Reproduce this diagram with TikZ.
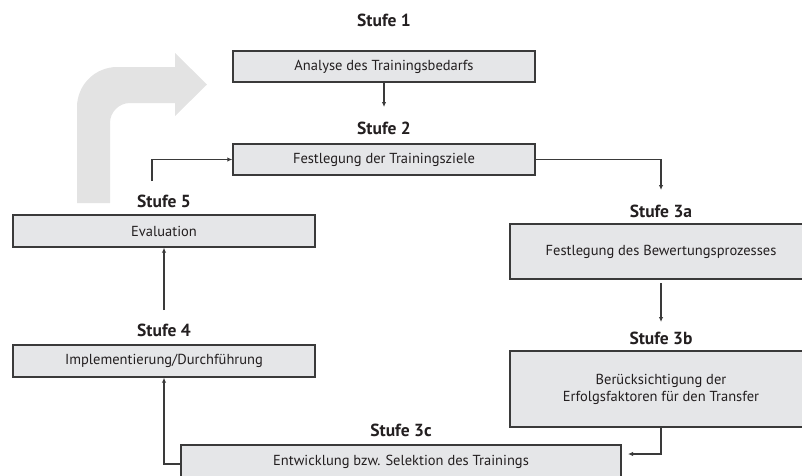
\documentclass[tikz,border=0pt]{standalone}
\usepackage{fontspec}
\setmainfont{PT Sans}
\usetikzlibrary{arrows.meta}
\definecolor{boxfill}{HTML}{E5E6E8}
\definecolor{boxline}{HTML}{3A3A3A}
\definecolor{bigarrow}{HTML}{E3E3E3}
\definecolor{txt}{HTML}{231F20}
\begin{document}
\begin{tikzpicture}[x=1pt,y=-1pt,
  stage/.style={draw=boxline,line width=1.4pt,fill=boxfill,text=txt,
    font=\fontsize{14.5}{17}\selectfont,align=center,inner sep=0pt},
  lbl/.style={text=txt,font=\fontsize{17.5}{20}\selectfont\bfseries,inner sep=0pt},
  conn/.style={draw=boxline,line width=1.1pt,-{Latex[length=5pt,width=4.5pt]}}]
\useasboundingbox (0,0) rectangle (802,475);
\begin{scope}
\clip (0,0) rectangle (802,475);
% big grey arrow
\fill[bigarrow] (77,203) -- (77,107) .. controls (77,85) and (95,67) .. (117,67)
  -- (175,67) -- (175,53) -- (207,84.5) -- (175,116) -- (175,103) -- (130,103)
  .. controls (119,103) and (110,112) .. (110,123) -- (110,203) -- cycle;
% boxes
\node[stage,minimum width=302pt,minimum height=31pt] (s1) at (384,66.5) {Analyse des Trainingsbedarfs};
\node[stage,minimum width=302pt,minimum height=31pt] (s2) at (384,159.5) {Festlegung der Trainingsziele};
\node[stage,minimum width=302pt,minimum height=55pt] (s3a) at (661,251.5) {Festlegung des Bewertungsprozesses};
\node[stage,minimum width=302pt,minimum height=76pt] (s3b) at (661,389) {Berücksichtigung der\\Erfolgsfaktoren für den Transfer};
\node[stage,minimum width=440pt,minimum height=34pt] (s3c) at (401,462) {Entwicklung bzw. Selektion des Trainings};
\node[stage,minimum width=302pt,minimum height=32pt] (s4) at (164,361) {Implementierung/Durchführung};
\node[stage,minimum width=302pt,minimum height=32pt] (s5) at (164,231) {Evaluation};
% labels
\node[lbl] (l1) at (384,20) {Stufe 1};
\node[lbl] (l2) at (384,128) {Stufe 2};
\node[lbl] (l3a) at (661,211) {Stufe 3a};
\node[lbl] (l3b) at (661,338) {Stufe 3b};
\node[lbl] (l3c) at (401,430) {Stufe 3c};
\node[lbl] (l4) at (164,330) {Stufe 4};
\node[lbl] (l5) at (164,201) {Stufe 5};
% connector ends
\coordinate (e1) at (384,107);
\coordinate (b5) at (152,181);
\coordinate (e2) at (661,190);
\coordinate (b3a) at (661,283);
\coordinate (e3a) at (661,322);
\coordinate (e3b) at (628,454);
\coordinate (b4) at (164,310);
% connectors
\draw[conn] (s1.south) -- (e1);
\draw[conn] (b5) |- (s2.west);
\draw[conn] (s2.east) -| (e2);
\draw[conn] (b3a) -- (e3a);
\draw[conn] (s3b.south -| e2) |- (e3b);
\draw[conn] (s3c.west |- 0,464) -| (s4.south);
\draw[conn] (b4) -- (s5.south);
\end{scope}
\end{tikzpicture}
\end{document}
